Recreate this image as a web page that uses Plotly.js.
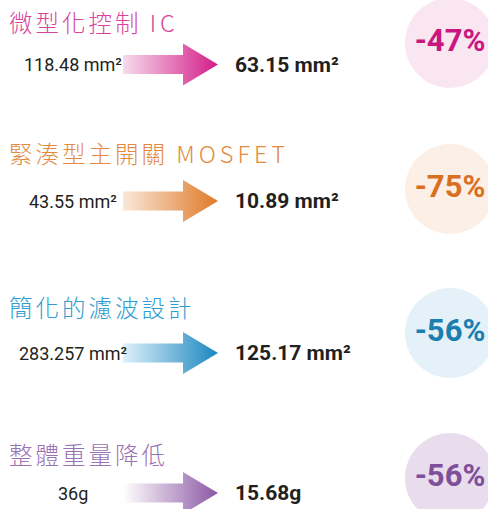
<!DOCTYPE html>
<html>
<head>
<meta charset="utf-8">
<script src="https://cdn.plot.ly/plotly-3.0.1.min.js"></script>
<style>
  html, body { margin: 0; padding: 0; background: #ffffff; }
  #chart { width: 488px; height: 509px; }
  g.annotation[data-index="0"] text,
  g.annotation[data-index="1"] text,
  g.annotation[data-index="2"] text,
  g.annotation[data-index="3"] text { letter-spacing: 3px; }
</style>
</head>
<body>
<div id="chart"></div>
<script>
// ---- data ----
const categories = ["微型化控制 IC", "緊湊型主開關 MOSFET", "簡化的濾波設計", "整體重量降低"];
const beforeValues = [118.48, 43.55, 283.257, 36];
const afterValues = [63.15, 10.89, 125.17, 15.68];
const unitLabels = [" mm²", " mm²", " mm²", "g"];
const reductions = [-47, -75, -56, -56];

// ---- styling / layout constants ----
const titleColors = ["#d8449b", "#e48a3e", "#2f9dd0", "#9a72b2"];
const darkColors = ["#d41c88", "#df7a26", "#1a88bf", "#8b58a4"];
const lightColors = ["#f6dcec", "#f9e8da", "#dff0fa", "#ffffff"];
const circleColors = ["#f9e6f1", "#fcefe6", "#e5f1f8", "#e9dcec"];
const pctColors = ["#c8187f", "#d9701f", "#1a7fb0", "#7e4f9a"];
const rowTitleY = [22, 153, 307, 454];
const rowArrowY = [64.5, 201, 353, 493];
const rowCircleY = [43, 189, 333, 478];
const arrowX0 = 123, arrowNeck = 183, arrowTip = 218, shaftHalf = 9.5, headHalf = 21;
const beforeX = 73, afterX = 233, titleX = 7, circleX = 450;

const traces = [];
const annotations = [];

// titles first (indices 0..3 get letter-spacing); latin suffix gets wider tracking
categories.forEach((c, i) => {
  const txt = c.replace(/ ([A-Za-z]+)$/, ' <span style="letter-spacing:4px">$1</span>');
  annotations.push({
    x: titleX, y: rowTitleY[i], xref: "x", yref: "y",
    text: txt, showarrow: false, xanchor: "left", yanchor: "middle", align: "left",
    font: { family: "Noto Sans CJK TC, Noto Sans, sans-serif", size: 23.5, color: titleColors[i], weight: 300 }
  });
});

categories.forEach((c, i) => {
  const cy = rowArrowY[i];
  // arrow polygon
  traces.push({
    type: "scatter", mode: "lines",
    x: [arrowX0, arrowNeck, arrowNeck, arrowTip, arrowNeck, arrowNeck, arrowX0, arrowX0],
    y: [cy - shaftHalf, cy - shaftHalf, cy - headHalf, cy, cy + headHalf, cy + shaftHalf, cy + shaftHalf, cy - shaftHalf],
    fill: "toself",
    fillgradient: { type: "horizontal", colorscale: [[0, lightColors[i]], [1, darkColors[i]]] },
    line: { width: 0, color: "rgba(0,0,0,0)" },
    hoverinfo: "skip"
  });
  // before label
  annotations.push({
    x: beforeX, y: cy, xref: "x", yref: "y",
    text: String(beforeValues[i]) + unitLabels[i], showarrow: false,
    xanchor: "center", yanchor: "middle",
    font: { family: "Roboto, sans-serif", size: 18, color: "#231f20" }
  });
  // after label
  annotations.push({
    x: afterX, y: cy, xref: "x", yref: "y",
    text: String(afterValues[i]) + unitLabels[i], showarrow: false,
    xanchor: "left", yanchor: "middle",
    font: { family: "Roboto, sans-serif", size: 21, color: "#231f20", weight: 700 }
  });
});

// reduction circles
traces.push({
  type: "scatter", mode: "markers+text",
  x: reductions.map(() => circleX),
  y: rowCircleY,
  marker: { size: 90, color: circleColors, line: { width: 0 } },
  text: reductions.map(v => v + "%"),
  textposition: "middle center",
  textfont: { family: "Roboto, sans-serif", size: 31, color: pctColors, weight: 700 },
  hoverinfo: "skip"
});

const layout = {
  width: 488, height: 509,
  margin: { l: 0, r: 0, t: 0, b: 0 },
  paper_bgcolor: "#ffffff", plot_bgcolor: "#ffffff",
  showlegend: false,
  xaxis: { range: [0, 488], visible: false, fixedrange: true },
  yaxis: { range: [509, 0], visible: false, fixedrange: true },
  annotations: annotations
};

Plotly.newPlot("chart", traces, layout, { displayModeBar: false, staticPlot: true });
</script>
</body>
</html>
